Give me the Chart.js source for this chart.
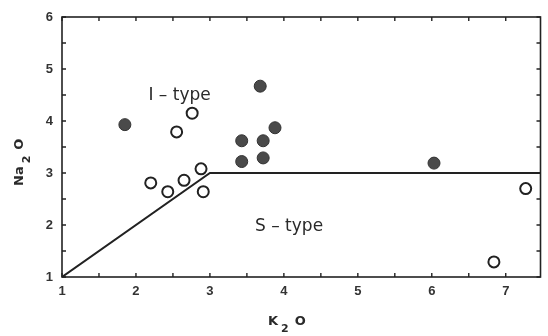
<!DOCTYPE html>
<html>
<head>
<meta charset="utf-8">
<script src="https://cdn.jsdelivr.net/npm/chart.js@4.4.0/dist/chart.umd.min.js"></script>
<style>
  html, body { margin: 0; padding: 0; background: #fff; }
  #wrap { width: 548px; height: 336px; }
</style>
</head>
<body>
<div id="wrap"><canvas id="chart" width="548" height="336"></canvas></div>
<script>
// K2O / Na2O values
const iTypeK2O = [1.85, 3.68, 3.43, 3.72, 3.88, 3.43, 3.72, 6.03];
const iTypeNa2O = [3.93, 4.67, 3.62, 3.62, 3.87, 3.22, 3.29, 3.19];

const sTypeK2O = [2.55, 2.76, 2.2, 2.43, 2.65, 2.88, 2.91, 7.27, 6.84];
const sTypeNa2O = [3.79, 4.15, 2.81, 2.64, 2.86, 3.08, 2.64, 2.7, 1.29];

// dividing line between I-type and S-type
const boundaryK2O = [1, 3, 7.47];
const boundaryNa2O = [1, 3, 3];

const xTicks = [1, 1.5, 2, 2.5, 3, 3.5, 4, 4.5, 5, 5.5, 6, 6.5, 7];
const yTicks = [1, 1.5, 2, 2.5, 3, 3.5, 4, 4.5, 5, 5.5, 6];

const toPoints = (xs, ys) => xs.map((x, i) => ({ x, y: ys[i] }));

const ink = '#222';

// text with a lowered subscript, drawn left to right from (0,0)
function drawFormula(ctx, parts) {
  let x = 0;
  parts.forEach(([txt, sub]) => {
    ctx.font = sub ? 'bold 11px "DejaVu Sans"' : 'bold 13px "DejaVu Sans"';
    ctx.fillText(txt, x, sub ? 7 : 0);
    x += ctx.measureText(txt).width + (sub ? 6 : 3);
  });
}

// frame + inward ticks on all four sides, plus region labels and axis titles
const framePlugin = {
  id: 'frame',
  afterDraw(chart) {
    const { ctx, chartArea: a, scales } = chart;
    ctx.save();
    ctx.strokeStyle = ink;
    ctx.lineWidth = 1.6;
    ctx.strokeRect(a.left, a.top, a.right - a.left, a.bottom - a.top);
    ctx.lineWidth = 1.4;
    const len = 4;
    scales.x.ticks.forEach(t => {
      const px = scales.x.getPixelForValue(t.value);
      ctx.beginPath();
      ctx.moveTo(px, a.bottom); ctx.lineTo(px, a.bottom - len);
      ctx.moveTo(px, a.top); ctx.lineTo(px, a.top + len);
      ctx.stroke();
    });
    scales.y.ticks.forEach(t => {
      const py = scales.y.getPixelForValue(t.value);
      ctx.beginPath();
      ctx.moveTo(a.left, py); ctx.lineTo(a.left + len, py);
      ctx.moveTo(a.right, py); ctx.lineTo(a.right - len, py);
      ctx.stroke();
    });

    ctx.fillStyle = '#2a2a2a';
    ctx.textAlign = 'center';
    ctx.textBaseline = 'middle';
    ctx.font = '17px "DejaVu Sans"';
    ctx.fillText('I – type', scales.x.getPixelForValue(2.59), scales.y.getPixelForValue(4.48));
    ctx.fillText('S – type', scales.x.getPixelForValue(4.07), scales.y.getPixelForValue(1.97));

    ctx.textAlign = 'left';
    ctx.save();
    ctx.translate(268, 322);
    drawFormula(ctx, [['K'], ['2', true], ['O']]);
    ctx.restore();

    ctx.save();
    ctx.translate(20, 186);
    ctx.rotate(-Math.PI / 2);
    drawFormula(ctx, [['Na'], ['2', true], ['O']]);
    ctx.restore();
    ctx.restore();
  }
};

const tickFont = { family: 'Liberation Sans', size: 13, weight: 'bold' };

new Chart(document.getElementById('chart'), {
  type: 'scatter',
  data: {
    datasets: [
      {
        label: 'I-type',
        data: toPoints(iTypeK2O, iTypeNa2O),
        backgroundColor: '#4a4a4a',
        borderColor: '#333',
        borderWidth: 1,
        pointRadius: 6,
        order: 0
      },
      {
        label: 'S-type',
        data: toPoints(sTypeK2O, sTypeNa2O),
        backgroundColor: '#fff',
        borderColor: ink,
        borderWidth: 2,
        pointRadius: 5.5,
        order: 1
      },
      {
        label: 'boundary',
        data: toPoints(boundaryK2O, boundaryNa2O),
        showLine: true,
        borderColor: ink,
        borderWidth: 2,
        pointRadius: 0,
        order: 2
      }
    ]
  },
  options: {
    responsive: false,
    animation: false,
    devicePixelRatio: 1,
    layout: { padding: { left: 0, top: 17, right: 1, bottom: 0 } },
    plugins: { legend: { display: false }, tooltip: { enabled: false } },
    scales: {
      x: {
        type: 'linear',
        min: 1,
        max: 7.47,
        afterBuildTicks: s => { s.ticks = xTicks.map(v => ({ value: v })); },
        afterFit: s => { s.height = 59; },
        grid: { display: false },
        border: { display: false },
        ticks: {
          autoSkip: false,
          maxRotation: 0,
          padding: -1,
          color: '#333',
          font: tickFont,
          callback: v => (Number.isInteger(v) ? String(v) : '')
        }
      },
      y: {
        type: 'linear',
        min: 1,
        max: 6,
        afterBuildTicks: s => { s.ticks = yTicks.map(v => ({ value: v })); },
        afterFit: s => { s.width = 62; },
        grid: { display: false },
        border: { display: false },
        ticks: {
          autoSkip: false,
          padding: 1,
          color: '#333',
          font: tickFont,
          callback: v => (Number.isInteger(v) ? String(v) : '')
        }
      }
    }
  },
  plugins: [framePlugin]
});
</script>
</body>
</html>
